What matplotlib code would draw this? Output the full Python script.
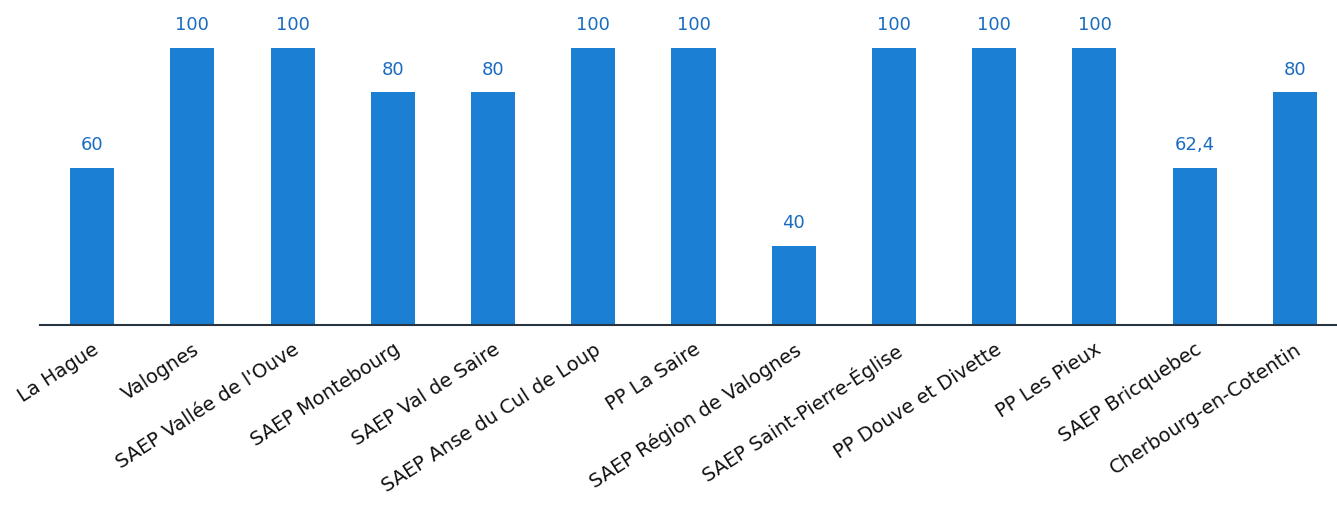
import matplotlib
matplotlib.use("Agg")
import matplotlib.pyplot as plt

categories = [
    "La Hague", "Valognes", "SAEP Vallée de l'Ouve", "SAEP Montebourg",
    "SAEP Val de Saire", "SAEP Anse du Cul de Loup", "PP La Saire",
    "SAEP Région de Valognes", "SAEP Saint-Pierre-Église",
    "PP Douve et Divette", "PP Les Pieux", "SAEP Bricquebec",
    "Cherbourg-en-Cotentin",
]
# labels printed above the bars
value_labels = ["60", "100", "100", "80", "80", "100", "100", "40",
                "100", "100", "100", "62,4", "80"]
# bar heights as drawn in the picture (100 = tallest bar)
bar_heights = [56.7, 100, 100, 84, 84, 100, 100, 28.5, 100, 100, 100, 56.7, 84]

bar_color = "#1b80d3"
label_color = "#1a6cc0"

fig = plt.figure(figsize=(13.37, 5.06), dpi=100)
ax = fig.add_axes([40 / 1337, 1 - 326 / 506, 1 - 40 / 1337, 326 / 506])

x = list(range(len(categories)))
bars = ax.bar(x, bar_heights, width=0.44, color=bar_color, zorder=2)
for xi, h, lab in zip(x, bar_heights, value_labels):
    ax.text(xi, h + 5.3, lab, ha="center", va="bottom", fontsize=13,
            color=label_color, family="DejaVu Sans")

ax.set_xlim(-0.52, 12.42)
ax.set_ylim(0, 117.7)
ax.set_yticks([])
for s in ["top", "right", "left"]:
    ax.spines[s].set_visible(False)
ax.spines["bottom"].set_color("#2a3340")
ax.spines["bottom"].set_linewidth(1.5)
ax.spines["bottom"].set_zorder(3)

ax.set_xticks(x)
ax.set_xticklabels(categories, rotation=33, ha="right",
                   rotation_mode="anchor", fontsize=14, color="#111111")
ax.tick_params(axis="x", length=0, pad=10)

fig.savefig("out.png", dpi=100, facecolor="white")
